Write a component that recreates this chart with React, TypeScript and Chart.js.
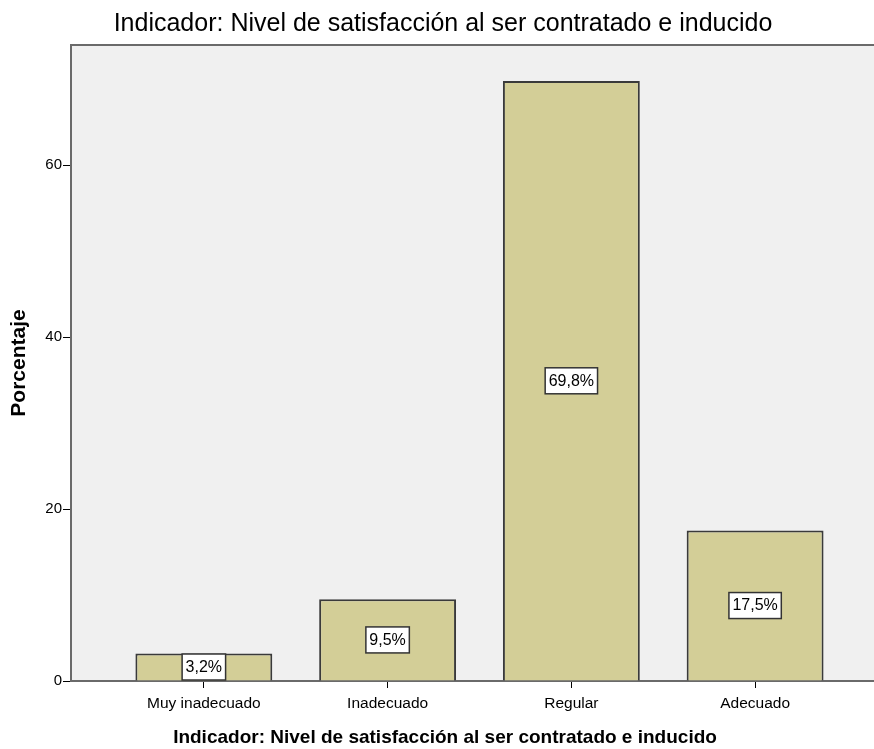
import React, { useEffect, useRef } from 'react';
import { Chart, registerables } from 'chart.js';

Chart.register(...registerables);

const categories = ['Muy inadecuado', 'Inadecuado', 'Regular', 'Adecuado'];
const percentages = [3.2, 9.5, 69.8, 17.5];
const pctLabels = ['3,2%', '9,5%', '69,8%', '17,5%'];
const yTicks = [0, 20, 40, 60];
const chartTitle = 'Indicador: Nivel de satisfacción al ser contratado e inducido';
const xTitle = 'Indicador: Nivel de satisfacción al ser contratado e inducido';
const yTitle = 'Porcentaje';

const FAMILY = '"Liberation Sans", Arial, sans-serif';

const decorPlugin = {
  id: 'decor',
  beforeDraw(chart: any) {
    const { ctx, chartArea: a } = chart;
    ctx.save();
    ctx.fillStyle = '#f0f0f0';
    ctx.fillRect(a.left, a.top, a.right - a.left, a.bottom - a.top);
    ctx.strokeStyle = '#6a6a6a';
    ctx.lineWidth = 2;
    ctx.beginPath();
    ctx.moveTo(a.left - 1, a.top);
    ctx.lineTo(a.right, a.top);
    ctx.stroke();
    ctx.fillStyle = '#000';
    ctx.textAlign = 'center';
    ctx.textBaseline = 'middle';
    ctx.font = `25px ${FAMILY}`;
    ctx.fillText(chartTitle, 443, 24);
    ctx.font = `bold 19px ${FAMILY}`;
    ctx.fillText(xTitle, 445, 738);
    ctx.restore();
  },
  afterDatasetsDraw(chart: any) {
    const { ctx } = chart;
    const meta = chart.getDatasetMeta(0);
    ctx.save();
    ctx.font = `16px ${FAMILY}`;
    ctx.textAlign = 'center';
    ctx.textBaseline = 'middle';
    meta.data.forEach((bar: any, i: number) => {
      const text = pctLabels[i];
      const cx = bar.x;
      const cy = (bar.y + bar.base) / 2;
      const w = ctx.measureText(text).width + 7;
      const h = 26;
      ctx.fillStyle = '#ffffff';
      ctx.fillRect(cx - w / 2, cy - h / 2, w, h);
      ctx.strokeStyle = '#333333';
      ctx.lineWidth = 1.5;
      ctx.strokeRect(cx - w / 2, cy - h / 2, w, h);
      ctx.fillStyle = '#000';
      ctx.fillText(text, cx, cy + 0.5);
    });
    ctx.restore();
  },
};

export default function App() {
  const ref = useRef<HTMLCanvasElement>(null);

  useEffect(() => {
    document.body.style.margin = '0';
    const canvas = ref.current;
    if (!canvas) return;
    const chart = new Chart(canvas, {
      type: 'bar',
      data: {
        datasets: [
          {
            data: categories.map((_, i) => ({ x: i, y: percentages[i] })),
            backgroundColor: '#d3ce97',
            borderColor: '#3a3a3a',
            borderWidth: 2,
            barPercentage: 0.745,
            categoryPercentage: 1,
          },
        ],
      },
      options: {
        animation: false,
        responsive: false,
        devicePixelRatio: 1,
        layout: { padding: { top: 45, left: 0, right: 0, bottom: 0 } },
        plugins: {
          legend: { display: false },
          tooltip: { enabled: false },
          title: { display: false },
        },
        scales: {
          x: {
            type: 'linear',
            min: -0.723,
            max: 3.647,
            offset: false,
            afterBuildTicks: (s: any) => {
              s.ticks = categories.map((_, i) => ({ value: i }));
            },
            afterFit: (s: any) => {
              s.height = 68;
              s.paddingLeft = 0;
              s.paddingRight = 0;
            },
            ticks: {
              callback: (v: any) => categories[Math.round(Number(v))],
              font: { family: FAMILY, size: 15.5 },
              color: '#000',
              padding: 6,
              maxRotation: 0,
              autoSkip: false,
            },
            grid: {
              display: true,
              offset: false,
              drawOnChartArea: false,
              drawTicks: true,
              tickLength: 7,
              tickColor: '#000',
              tickWidth: 1,
            },
            border: { display: true, color: '#6a6a6a', width: 2 },
          },
          y: {
            type: 'linear',
            min: 0,
            max: 74,
            afterBuildTicks: (s: any) => {
              s.ticks = yTicks.map((v) => ({ value: v }));
            },
            afterFit: (s: any) => {
              s.width = 71;
              s.paddingTop = 0;
              s.paddingBottom = 0;
            },
            ticks: {
              font: { family: FAMILY, size: 15 },
              color: '#000',
              padding: 1,
            },
            grid: {
              display: true,
              offset: false,
              drawOnChartArea: false,
              drawTicks: true,
              tickLength: 8,
              tickColor: '#000',
              tickWidth: 1,
            },
            border: { display: true, color: '#6a6a6a', width: 2 },
            title: {
              display: true,
              text: yTitle,
              color: '#000',
              font: { family: FAMILY, size: 21, weight: 'bold' },
              padding: { top: 7, bottom: 0 },
            },
          },
        },
      },
      plugins: [decorPlugin],
    } as any);
    return () => chart.destroy();
  }, []);

  return <canvas ref={ref} width={874} height={749} style={{ display: 'block' }} />;
}
